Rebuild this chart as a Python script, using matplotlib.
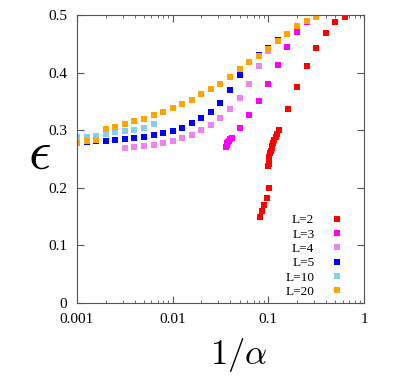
import matplotlib
matplotlib.use("Agg")
import matplotlib.pyplot as plt
from matplotlib.ticker import FixedLocator, FixedFormatter, NullFormatter, LogLocator

plt.rcParams["font.family"] = ["Liberation Serif", "DejaVu Serif"]
plt.rcParams["mathtext.fontset"] = "cm"

# L=2
x_L2 = [0.081, 0.0857, 0.0906, 0.096, 0.1015,
        0.0997, 0.1005, 0.1015, 0.1027, 0.104, 0.1058, 0.108, 0.110, 0.1125,
        0.1155, 0.120, 0.1245, 0.130,
        0.160, 0.200, 0.251, 0.316, 0.398, 0.50, 0.63]
y_L2 = [0.149, 0.160, 0.170, 0.1817, 0.200,
        0.237, 0.242, 0.248, 0.254, 0.260, 0.264, 0.2685, 0.273, 0.277,
        0.283, 0.2887, 0.294, 0.300,
        0.336, 0.3745, 0.411, 0.443, 0.469, 0.487, 0.496]

# L=3
x_L3 = [0.0361, 0.0366, 0.0372, 0.0380, 0.0389, 0.0400, 0.0414,
        0.0501, 0.063, 0.0794, 0.100, 0.126, 0.158, 0.200, 0.251]
y_L3 = [0.2714, 0.2742, 0.277, 0.2795, 0.2818, 0.284, 0.286,
        0.3043, 0.3264, 0.351, 0.380, 0.4126, 0.444, 0.4705, 0.487]

# L=4
x_L4 = [0.00316, 0.00398, 0.00501, 0.00631, 0.00794, 0.01, 0.0126, 0.0158,
        0.02, 0.0251, 0.0316, 0.0398, 0.0501, 0.0631, 0.0794, 0.1]
y_L4 = [0.2697, 0.2714, 0.273, 0.2748, 0.2778, 0.2812, 0.286, 0.2917,
        0.2998, 0.309, 0.321, 0.337, 0.356, 0.381, 0.411, 0.438]

# L=5
x_L5 = [0.001, 0.00126, 0.00158, 0.002, 0.00251, 0.00316, 0.00398, 0.00501,
        0.00631, 0.00794, 0.01, 0.0126, 0.0158, 0.02, 0.0251, 0.0316, 0.0398,
        0.0501, 0.0631, 0.0794, 0.1, 0.126]
y_L5 = [0.279, 0.280, 0.281, 0.282, 0.2835, 0.285, 0.287, 0.289,
        0.292, 0.295, 0.2986, 0.304, 0.312, 0.321, 0.332, 0.348, 0.369,
        0.396, 0.419, 0.431, 0.443, 0.456]

# L=10
x_L10 = [0.001, 0.00126, 0.00158, 0.002, 0.00251, 0.00316, 0.00398, 0.00501,
         0.00631]
y_L10 = [0.288, 0.289, 0.290, 0.293, 0.296, 0.299, 0.301, 0.304, 0.310]

# L=20
x_L20 = [0.001, 0.00126, 0.00158, 0.002, 0.00251, 0.00316, 0.00398, 0.00501,
         0.00631, 0.00794, 0.01, 0.0126, 0.0158, 0.02, 0.0251, 0.0316, 0.0398,
         0.0501, 0.0631, 0.0794, 0.1, 0.126, 0.158, 0.2, 0.251, 0.316]
y_L20 = [0.278, 0.281, 0.283, 0.302, 0.306, 0.311, 0.3155, 0.320,
         0.326, 0.331, 0.338, 0.345, 0.353, 0.362, 0.371, 0.381, 0.393,
         0.406, 0.419, 0.429, 0.441, 0.454, 0.467, 0.480, 0.490, 0.497]

series = [
    (x_L2, y_L2, "L=2", "#ff0000"),
    (x_L3, y_L3, "L=3", "#ff00ff"),
    (x_L4, y_L4, "L=4", "#ee82ee"),
    (x_L5, y_L5, "L=5", "#0000ff"),
    (x_L10, y_L10, "L=10", "#87ceeb"),
    (x_L20, y_L20, "L=20", "#ffa500"),
]

x_ticks = [0.001, 0.01, 0.1, 1]
x_tick_labels = ["0.001", "0.01", "0.1", "1"]
y_ticks = [0, 0.1, 0.2, 0.3, 0.4, 0.5]
y_tick_labels = ["0", "0.1", "0.2", "0.3", "0.4", "0.5"]

fig = plt.figure(figsize=(4.15, 3.84), dpi=100)
ax = fig.add_axes([0.1855, 0.211, 0.6916, 0.75])

for xs, ys, lab, col in series:
    ax.plot(xs, ys, linestyle="none", marker="s", markersize=4.5,
            markeredgewidth=0, color=col, label=lab)

ax.set_xscale("log")
ax.set_xlim(0.001, 1)
ax.set_ylim(0, 0.5)

ax.xaxis.set_major_locator(FixedLocator(x_ticks))
ax.xaxis.set_major_formatter(FixedFormatter(x_tick_labels))
ax.xaxis.set_minor_locator(LogLocator(base=10, subs=range(2, 10)))
ax.xaxis.set_minor_formatter(NullFormatter())
ax.yaxis.set_major_locator(FixedLocator(y_ticks))
ax.yaxis.set_major_formatter(FixedFormatter(y_tick_labels))

for sp in ax.spines.values():
    sp.set_color("#555555")
    sp.set_linewidth(0.8)
ax.tick_params(which="both", direction="in", top=True, right=True,
               color="#555555", labelsize=11)
ax.tick_params(which="major", length=5, pad=7)
ax.tick_params(which="minor", length=2.5)

ax.set_xlabel(r"$1/\alpha$", fontsize=25)
ax.xaxis.set_label_coords(0.564, -0.18)
ax.xaxis.label.set_va("center")
ax.set_ylabel(r"$\epsilon$", fontsize=40, rotation=0)
ax.yaxis.set_label_coords(-0.132, 0.514)
ax.yaxis.label.set_va("center")
ax.yaxis.label.set_ha("center")

ax.legend(loc="lower right", bbox_to_anchor=(0.96, -0.015), frameon=False,
          markerfirst=False, fontsize=9.5, labelspacing=0.16,
          handlelength=1.0, handletextpad=1.2, borderaxespad=0.3)

fig.savefig("out.png", dpi=100)
